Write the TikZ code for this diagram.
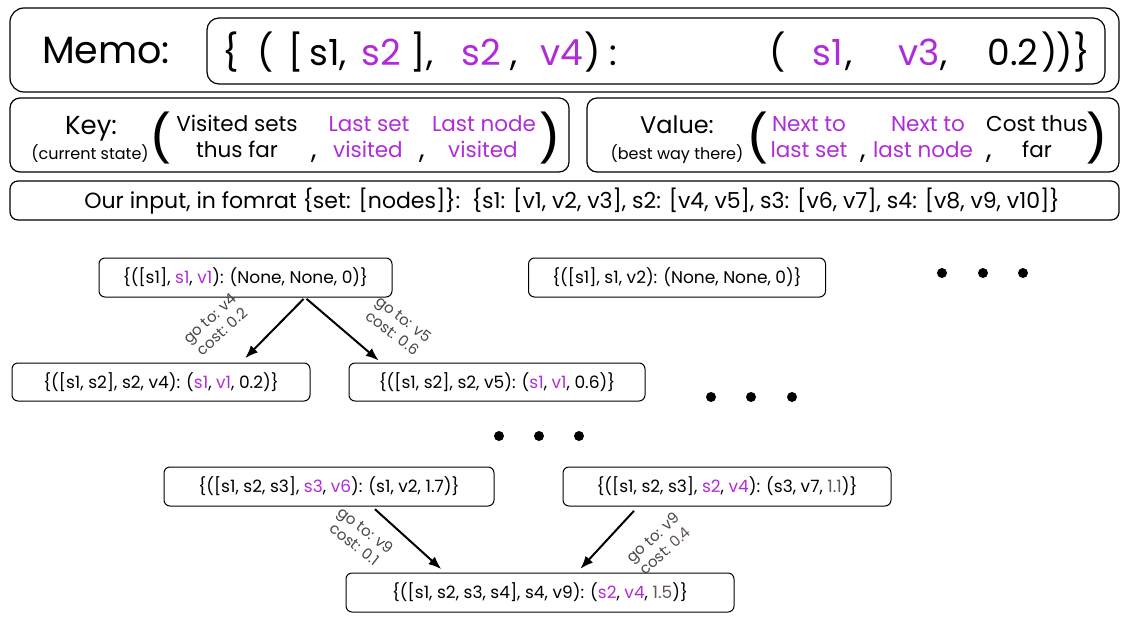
\documentclass[tikz,border=0pt]{standalone}
\usepackage{fontspec}
\setmainfont{Poppins}
\newfontfamily\parfont{Liberation Sans}
\usetikzlibrary{arrows.meta}
\definecolor{pur}{RGB}{176,44,216}
\definecolor{lbl}{RGB}{70,70,70}
\definecolor{dg}{RGB}{100,85,85}
\newcommand{\fsz}[1]{\fontsize{#1}{#1}\selectfont}
\begin{document}
\begin{tikzpicture}[x=1pt,y=-1pt,
  frame/.style={draw,line width=1.2pt,inner sep=0pt},
  st/.style={draw,rounded corners=6pt,line width=1pt,inner sep=0pt,font=\fsz{17}},
  arr/.style={-{Latex[length=13pt,width=10pt]},line width=2pt},
  lab/.style={font=\fontsize{15}{18}\selectfont,text=lbl,align=center,inner sep=0pt},
  tok/.style={inner sep=0pt,anchor=base,font=\fsz{36}},
  kt/.style={inner sep=0pt,anchor=base,font=\fsz{21.5}},
  comma/.style={inner sep=0pt,anchor=base,font=\fsz{28}},
  sm/.style={inner sep=0pt,anchor=base,font=\fsz{16}},
  bp/.style={inner sep=0pt,anchor=center,font=\parfont\fsz{56}},
  dot/.style={fill=black,circle,inner sep=0pt,minimum size=10pt}]
\useasboundingbox (0,0) rectangle (1145,637);
% memo
\node[frame,rounded corners=14pt,minimum width=1109pt,minimum height=84pt] (memo) at (564.5,50) {};
\node[frame,rounded corners=12pt,minimum width=898pt,minimum height=66pt] (inner) at (656,51) {};
\node[tok,font=\fsz{38}] (mlab) at (106,63) {Memo:};
\node[tok] (t1) at (231,65) {\{};
\node[tok] (t2) at (266,65) {(};
\node[tok] (t3) at (296,65) {[};
\node[tok] (t4) at (328,65) {s1,};
\node[tok,text=pur] (t5) at (381,65) {s2};
\node[tok] (t6) at (422,65) {],};
\node[tok,text=pur] (t7) at (481,65) {s2};
\node[tok] (t8) at (514,65) {,};
\node[tok,text=pur] (t9) at (562,65) {v4};
\node[tok] (t10) at (593,65) {)};
\node[tok] (t11) at (613,65) {:};
\node[tok] (t12) at (778,65) {(};
\node[tok,text=pur] (t13) at (828,65) {s1};
\node[tok] (t14) at (849,65) {,};
\node[tok,text=pur] (t15) at (919,65) {v3};
\node[tok] (t16) at (944,65) {,};
\node[tok] (t17) at (1013,65) {0.2};
\node[tok] (t18) at (1050,65) {)};
\node[tok] (t19) at (1065,65) {)};
\node[tok] (t20) at (1082,65) {\}};
% key box
\node[frame,rounded corners=10pt,minimum width=559pt,minimum height=74pt] (keyb) at (289.5,135) {};
\node[kt,font=\fsz{26}] (k1) at (91,134) {Key:};
\node[sm] (k2) at (90,159) {(current state)};
\node[bp] (k3) at (161,138) {(};
\node[kt] (k4) at (237,131) {Visited sets};
\node[kt] (k5) at (237,157) {thus far};
\node[comma] (k6) at (314,158) {,};
\node[kt,text=pur] (k7) at (369,131) {Last set};
\node[kt,text=pur] (k8) at (368,157) {visited};
\node[comma] (k9) at (422,158) {,};
\node[kt,text=pur] (k10) at (484,131) {Last node};
\node[kt,text=pur] (k11) at (483,157) {visited};
\node[bp] (k12) at (550,138) {)};
% value box
\node[frame,rounded corners=10pt,minimum width=532pt,minimum height=74pt] (valb) at (853,135) {};
\node[kt,font=\fsz{24}] (v1) at (677,133) {Value:};
\node[sm] (v2) at (677,159) {(best way there)};
\node[bp] (v3) at (758,138) {(};
\node[kt,text=pur] (v4) at (809,131) {Next to};
\node[kt,text=pur] (v5) at (809,157) {last set};
\node[comma] (v6) at (863,158) {,};
\node[kt,text=pur] (v7) at (928,131) {Next to};
\node[kt,text=pur] (v8) at (923,157) {last node};
\node[comma] (v9) at (989,158) {,};
\node[kt] (v10) at (1037,131) {Cost thus};
\node[kt] (v11) at (1037,157) {far};
\node[bp] (v12) at (1097,138) {)};
% input
\node[frame,rounded corners=8pt,minimum width=1109pt,minimum height=39pt] (inp) at (564.5,200.5) {};
\node[kt,font=\fsz{22}] (inpt) at (572,208) {Our input, in fomrat \{set: [nodes]\}:\ \ \{s1: [v1, v2, v3], s2: [v4, v5], s3: [v6, v7], s4: [v8, v9, v10]\}};
% state nodes
\node[st,minimum width=293pt,minimum height=39pt] (A) at (245.5,277.5) {\{([s1], \textcolor{pur}{s1}, \textcolor{pur}{v1}): (None, None, 0)\}};
\node[st,minimum width=297pt,minimum height=39pt] (B) at (677,277.5) {\{([s1], s1, v2): (None, None, 0)\}};
\node[st,minimum width=298pt,minimum height=38pt] (C) at (161,382) {\{([s1, s2], s2, v4): (\textcolor{pur}{s1}, \textcolor{pur}{v1}, 0.2)\}};
\node[st,minimum width=296pt,minimum height=38pt] (D) at (497,382) {\{([s1, s2], s2, v5): (\textcolor{pur}{s1}, \textcolor{pur}{v1}, 0.6)\}};
\node[st,minimum width=330pt,minimum height=39pt] (E) at (329,486.5) {\{([s1, s2, s3], \textcolor{pur}{s3}, \textcolor{pur}{v6}): (s1, v2, 1.7)\}};
\node[st,minimum width=328pt,minimum height=39pt] (F) at (727,486.5) {\{([s1, s2, s3], \textcolor{pur}{s2}, \textcolor{pur}{v4}): (s3, v7, \textcolor{dg}{1.1})\}};
\node[st,minimum width=388pt,minimum height=39pt] (G) at (540,592.5) {\{([s1, s2, s3, s4], s4, v9): (\textcolor{pur}{s2}, \textcolor{pur}{v4}, \textcolor{dg}{1.5})\}};
% arrows
\draw[arr,shorten <=2pt,shorten >=6pt] ([xshift=59.5pt]A.south) -- ([xshift=80pt]C.north);
\draw[arr,shorten <=2pt,shorten >=3pt] ([xshift=59.5pt]A.south) -- ([xshift=-116pt]D.north);
\draw[arr,shorten <=4pt,shorten >=5pt] ([xshift=43pt]E.south) -- ([xshift=-95pt]G.north);
\draw[arr,shorten <=6pt,shorten >=5pt] ([xshift=-89pt]F.south) -- ([xshift=37pt]G.north);
% labels
\node[lab,rotate=42] (l1) at (216,325) {go to: v4\\cost: 0.2};
\node[lab,rotate=-38] (l2) at (398,326) {go to: v5\\cost: 0.6};
\node[lab,rotate=-38] (l3) at (360,537) {go to: v9\\cost: 0.1};
\node[lab,rotate=42] (l4) at (659,544) {go to: v9\\cost: \textcolor{dg}{0.4}};
% dots
\node[dot] (d1) at (942,273) {};
\node[dot] (d2) at (983,273) {};
\node[dot] (d3) at (1023,273) {};
\node[dot] (d4) at (711,397) {};
\node[dot] (d5) at (751,397) {};
\node[dot] (d6) at (792,397) {};
\node[dot] (d7) at (499,436) {};
\node[dot] (d8) at (539,436) {};
\node[dot] (d9) at (579,436) {};
\end{tikzpicture}
\end{document}
